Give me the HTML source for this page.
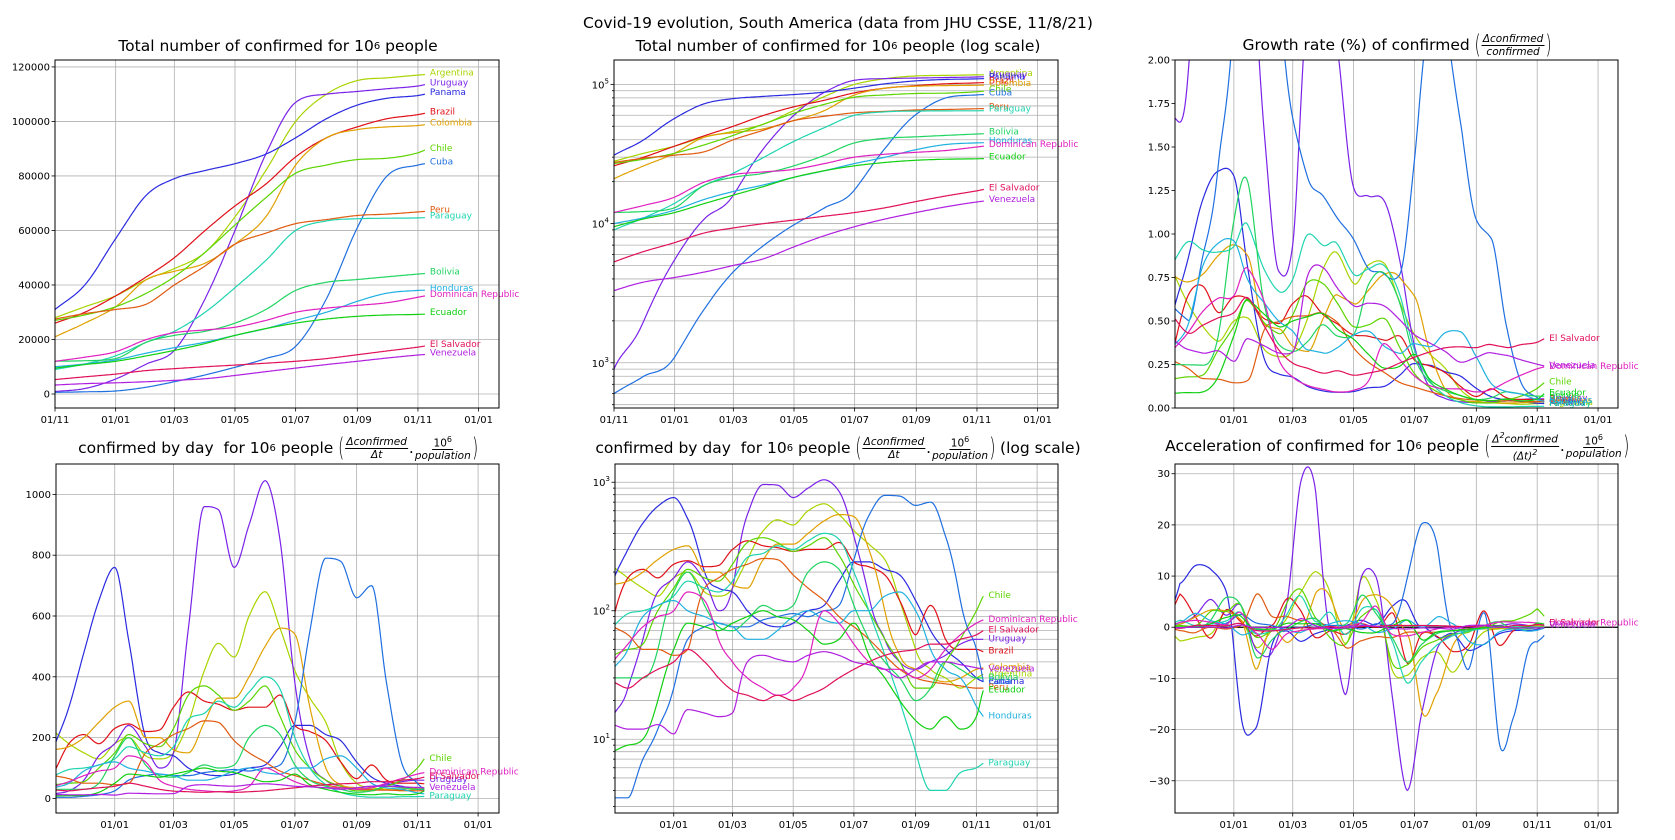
<!DOCTYPE html>
<html><head><meta charset="utf-8">
<style>
html,body{margin:0;padding:0;background:#fff;}
#wrap{position:relative;width:1675px;height:840px;overflow:hidden;font-family:"DejaVu Sans","Liberation Sans",sans-serif;}
svg{position:absolute;left:0;top:0;}
.ttl{position:absolute;transform:translate(-50%,-50%);white-space:nowrap;font-size:15.5px;color:#000;display:flex;align-items:center;}
.frac{display:inline-flex;flex-direction:column;align-items:center;font-style:italic;font-size:10.5px;line-height:12px;margin:0 1px;}
.frac .n{border-bottom:1px solid #000;padding:0 1px;}
.par{font-size:26px;font-weight:100;transform:scaleX(0.6);display:inline-block;margin:0 -2px;}
sup{font-size:10px;}
</style></head>
<body>
<div id="wrap">
<svg id="chart" width="1675" height="840"></svg>
<div class="ttl" style="left:838px;top:23px">Covid-19 evolution, South America (data from JHU CSSE, 11/8/21)</div>
<div class="ttl" style="left:278px;top:46px">Total number of confirmed for 10<sup>6</sup>&nbsp;people</div>
<div class="ttl" style="left:838px;top:46px">Total number of confirmed for 10<sup>6</sup>&nbsp;people (log scale)</div>
<div class="ttl" style="left:1397px;top:45px">Growth rate (%) of confirmed&nbsp;<span class="par">(</span><span class="frac"><span class="n">Δconfirmed</span><span>confirmed</span></span><span class="par">)</span></div>
<div class="ttl" style="left:278px;top:448px">confirmed by day&nbsp; for 10<sup>6</sup>&nbsp;people&nbsp;<span class="par">(</span><span class="frac"><span class="n">Δconfirmed</span><span>Δt</span></span>.<span class="frac"><span class="n" style="font-style:normal">10<sup style="font-size:8px">6</sup></span><span>population</span></span><span class="par">)</span></div>
<div class="ttl" style="left:838px;top:448px">confirmed by day&nbsp; for 10<sup>6</sup>&nbsp;people&nbsp;<span class="par">(</span><span class="frac"><span class="n">Δconfirmed</span><span>Δt</span></span>.<span class="frac"><span class="n" style="font-style:normal">10<sup style="font-size:8px">6</sup></span><span>population</span></span><span class="par">)</span>&nbsp;(log scale)</div>
<div class="ttl" style="left:1397px;top:446px">Acceleration of confirmed for 10<sup>6</sup>&nbsp;people&nbsp;<span class="par">(</span><span class="frac"><span class="n">Δ<sup style="font-size:8px">2</sup>confirmed</span><span>(Δt)<sup style="font-size:8px">2</sup></span></span>.<span class="frac"><span class="n" style="font-style:normal">10<sup style="font-size:8px">6</sup></span><span>population</span></span><span class="par">)</span></div>
</div>
<script>
// ---- data ----
const monthDays=[0,30,61,92,120,151,181,212,242,273,304,334,365,372];
const halfDays=[0,15,30,45,61,75,92,106,120,135,151,165,181,196,212,227,242,257,273,288,304,319,334,349,365,372];
const xTickDays=[0,61,120,181,242,304,365,426];
const xTickLabels=["01/11","01/01","01/03","01/05","01/07","01/09","01/11","01/01"];
const countryNames=["Argentina","Uruguay","Panama","Brazil","Colombia","Chile","Cuba","Peru","Paraguay","Bolivia","Honduras","Dominican Republic","Ecuador","El Salvador","Venezuela"];
const countryColors=["#a8d400","#7a22e8","#2a2ae0","#e01018","#e0a000","#5cd400","#1f6fe0","#e05a10","#1fd4b0","#1fd460","#1fb0e0","#e01fc0","#10d010","#e0105a","#b01fe0"];
// cumulative totals per million (thousands) at monthDays
const totArgentina=[28,32,36,42,46,52,65,82,100,110,115,116,117,117.2];
const totUruguay=[0.9,2,5.5,11,16,35,60,88,107,110,111,112,113,113.5];
const totPanama=[31,40,57,73,79,82,84.5,88,94,101,106,108.5,109.5,110];
const totBrazil=[26,30,36,43,50,60,69,77,87,94,98,101,102.5,103];
const totColombia=[21,26,32,42,45,48,55,65,84,94,97,98,98.5,98.8];
const totChile=[27,29,32,37,43,52,62,72,81,84,86,86.5,88.5,89.5];
const totCuba=[0.6,0.8,1.1,2.5,4.5,7,9.8,13,17.5,35,61,80,84,84.5];
const totPeru=[27.5,29.5,31,33,40,47,55,59,62.5,64,65.5,66,66.8,67];
const totParaguay=[9,11,14,19,23,30,39,49,60,63.5,64.3,64.5,64.6,64.7];
const totBolivia=[12,12.2,13,19,21.5,23,26,31,38,41,42,43,44,44.2];
const totHonduras=[10,11,12.5,15,17,19,21.5,24,27,30,34,37,38,38.1];
const totDomRep=[12,13.5,15.5,20,22.5,23.5,24.5,27,30,31.5,32.5,33.5,35.5,36];
const totEcuador=[9.5,10.8,12,14,16,18.5,21.5,24,26,27.5,28.5,29,29.2,29.3];
const totElSalvador=[5.3,6.3,7.3,8.6,9.3,10,10.6,11.3,12,13,14.4,15.8,17.2,17.6];
const totVenezuela=[3.3,3.8,4.1,4.5,5,5.6,6.8,8.2,9.5,10.8,12,13.2,14.3,14.5];
// smoothed daily confirmed per million at halfDays
const dayArgentina=[220,180,150,130,180,200,140,130,150,250,420,510,465,600,680,560,420,330,250,120,50,35,30,25,30,32];
const dayUruguay=[15,25,60,140,180,240,170,100,150,560,960,950,760,900,1045,850,380,130,60,40,35,40,45,55,60,60];
const dayPanama=[170,300,480,650,760,520,200,150,140,100,80,75,80,100,110,170,240,240,210,190,120,70,50,40,30,28];
const dayBrazil=[85,180,210,180,230,245,220,225,300,350,320,310,290,300,300,340,240,220,190,120,65,110,60,50,50,48];
const dayColombia=[160,170,200,250,300,320,200,200,160,150,250,330,330,400,500,560,540,300,100,45,35,30,28,30,35,36];
const dayChile=[45,50,55,100,150,210,180,170,230,340,370,340,290,320,370,270,160,100,60,40,25,25,40,60,100,130];
const dayCuba=[3.5,3.5,7,12,25,60,75,80,75,75,85,90,95,90,100,110,250,550,790,780,660,700,380,120,50,28];
const dayPeru=[75,65,50,50,45,50,150,180,210,230,255,250,190,150,120,90,75,60,45,35,30,28,27,26,25,25];
const dayParaguay=[75,95,100,110,130,170,150,140,170,260,280,320,300,350,400,360,200,100,45,20,8,4,4,5.5,6,6.5];
const dayBolivia=[30,30,30,50,140,200,110,75,70,85,110,100,110,200,240,210,110,60,40,30,20,25,40,35,30,30];
const dayHonduras=[35,50,90,110,120,100,90,80,75,60,60,70,90,100,85,80,100,100,130,140,100,50,35,30,18,15];
const dayDomRep=[40,55,75,90,100,140,120,60,40,30,25,22,25,40,100,80,55,40,35,35,30,35,50,65,80,85];
const dayEcuador=[8,9,10,20,50,80,75,70,80,90,100,90,85,70,55,60,80,45,30,20,14,12,15,12,15,24];
const dayElSalvador=[28,25,30,35,40,50,40,30,24,22,20,22,20,22,25,30,35,40,45,48,50,55,55,60,65,70];
const dayVenezuela=[13,12,12,13,11,17,16,15,16,40,45,42,40,45,48,45,40,38,35,30,35,40,40,38,36,35];
const totalsList=[totArgentina,totUruguay,totPanama,totBrazil,totColombia,totChile,totCuba,totPeru,totParaguay,totBolivia,totHonduras,totDomRep,totEcuador,totElSalvador,totVenezuela];
const dailyList=[dayArgentina,dayUruguay,dayPanama,dayBrazil,dayColombia,dayChile,dayCuba,dayPeru,dayParaguay,dayBolivia,dayHonduras,dayDomRep,dayEcuador,dayElSalvador,dayVenezuela];
const dailyLabelNames=["Chile","Dominican Republic","El Salvador","Uruguay","Venezuela","Paraguay"];

// ---- helpers ----
const NS="http://www.w3.org/2000/svg";
const svg=document.getElementById('chart');
function mk(tag,attrs,parent){const e=document.createElementNS(NS,tag);for(const k in attrs)e.setAttribute(k,attrs[k]);(parent||svg).appendChild(e);return e;}
function mono(xs,ys){
  const n=xs.length,d=[],m=[];
  for(let i=0;i<n-1;i++)d.push((ys[i+1]-ys[i])/(xs[i+1]-xs[i]));
  m[0]=d[0];m[n-1]=d[n-2];
  for(let i=1;i<n-1;i++){ if(d[i-1]*d[i]<=0)m[i]=0; else m[i]=(d[i-1]+d[i])/2; }
  for(let i=0;i<n-1;i++){ if(d[i]===0){m[i]=0;m[i+1]=0;continue;} const a=m[i]/d[i],b=m[i+1]/d[i]; const s=a*a+b*b; if(s>9){const t=3/Math.sqrt(s);m[i]=t*a*d[i];m[i+1]=t*b*d[i];} }
  return function(x){
    if(x<xs[0])x=xs[0]; if(x>xs[n-1])x=xs[n-1];
    let i=0; while(i<n-2&&x>xs[i+1])i++;
    const h=xs[i+1]-xs[i],t=(x-xs[i])/h,t2=t*t,t3=t2*t;
    return (2*t3-3*t2+1)*ys[i]+(t3-2*t2+t)*h*m[i]+(-2*t3+3*t2)*ys[i+1]+(t3-t2)*h*m[i+1];
  };
}
const totalF=totalsList.map(a=>mono(monthDays,a.map(v=>v*1000)));
const dailyF=dailyList.map(a=>mono(halfDays,a));

function makePanel(p){
  const g=mk('g',{});
  
  
  const xs=d=>p.x0+(d-p.d0)/(p.d1-p.d0)*(p.x1-p.x0);
  const ys=v=>{ if(p.log){const lv=Math.log10(Math.max(v,1e-6));return p.y1-(lv-p.v0)/(p.v1-p.v0)*(p.y1-p.y0);} return p.y1-(v-p.v0)/(p.v1-p.v0)*(p.y1-p.y0); };
  const cid='clip-'+p.name;
  const cp=mk('clipPath',{id:cid},g); mk('rect',{x:p.x0,y:p.y0,width:p.x1-p.x0,height:p.y1-p.y0},cp);
  const grid=mk('g',{stroke:'#b0b0b0','stroke-width':0.8},g);
   
  xTickDays.forEach((d,i)=>{
    if(d<p.d0-0.01||d>p.d1)return;
    const x=xs(d);
    mk('line',{x1:x,x2:x,y1:p.y0,y2:p.y1},grid);
    mk('line',{x1:x,x2:x,y1:p.y1,y2:p.y1+3.5,stroke:'#000','stroke-width':0.8},g);
    const t=mk('text',{x:x,y:p.y1+15,'text-anchor':'middle','font-size':10,'font-family':'DejaVu Sans, Liberation Sans, sans-serif'},g);
    t.textContent=xTickLabels[i];
     
  });
  if(p.log){
    for(let e=Math.floor(p.v0);e<=Math.ceil(p.v1);e++){
      for(let k=1;k<10;k++){
        const lv=e+Math.log10(k); if(lv<p.v0||lv>p.v1)continue;
        const y=p.y1-(lv-p.v0)/(p.v1-p.v0)*(p.y1-p.y0);
        mk('line',{x1:p.x0,x2:p.x1,y1:y,y2:y},grid);
        mk('line',{x1:p.x0-(k===1?3.5:2),x2:p.x0,y1:y,y2:y,stroke:'#000','stroke-width':0.8},g);
        if(k===1){const t=mk('text',{x:p.x0-5,y:y+4,'text-anchor':'end','font-size':10,'font-family':'DejaVu Sans, sans-serif'},g);
          t.innerHTML='10<tspan dy="-5" font-size="7">'+e+'</tspan>';
           }
      }
    }
  } else {
    p.yticks.forEach(v=>{
      const y=ys(v);
      if(!p.noHGrid)mk('line',{x1:p.x0,x2:p.x1,y1:y,y2:y},grid);
      mk('line',{x1:p.x0-3.5,x2:p.x0,y1:y,y2:y,stroke:'#000','stroke-width':0.8},g);
      const t=mk('text',{x:p.x0-5,y:y+3.5,'text-anchor':'end','font-size':10,'font-family':'DejaVu Sans, sans-serif'},g);
      t.textContent=p.fmt(v);
       
    });
  }
  if(p.zeroLine){const y=ys(0);mk('line',{x1:p.x0,x2:p.x1,y1:y,y2:y,stroke:'#000','stroke-width':1.3},g);}
  const lines=mk('g',{'clip-path':'url(#'+cid+')',fill:'none','stroke-width':1.2},g);
  countryNames.forEach((name,ci)=>{
    let pts=[];
    for(let d=Math.ceil(p.d0);d<=372;d++){ pts.push(xs(d).toFixed(1)+','+ys(p.val(ci,d)).toFixed(1)); }
    const pl=mk('polyline',{points:pts.join(' '),stroke:countryColors[ci]},lines);
    
    
    if(!p.labels||p.labels.includes(name)){
      const ly=ys(p.val(ci,372));
      const t=mk('text',{x:xs(372)+5,y:Math.max(p.y0+8,Math.min(p.y1-2,ly+(p.lblDy||0))),'font-size':9,fill:countryColors[ci],'font-family':'DejaVu Sans, sans-serif'},g);
      t.textContent=name;
      
      
    }
  });
  mk('rect',{x:p.x0,y:p.y0,width:p.x1-p.x0,height:p.y1-p.y0,fill:'none',stroke:'#000','stroke-width':1},g);
}
const tot=(ci,d)=>totalF[ci](d);
const dly=(ci,d)=>Math.max(dailyF[ci](d),0.5);
makePanel({name:'panel-total',x0:55,x1:499,y0:60,y1:408,d0:0,d1:446.5,v0:-5138,v1:122540,yticks:[0,20000,40000,60000,80000,100000,120000],fmt:v=>String(v),val:tot,lblDy:1});
makePanel({name:'panel-total-log',x0:614,x1:1058,y0:60,y1:408,d0:0,d1:446.5,log:true,v0:2.675,v1:5.175,val:tot,lblDy:1});
makePanel({name:'panel-growth',x0:1175,x1:1618,y0:60,y1:408,d0:2,d1:446,v0:0,v1:2,yticks:[0,0.25,0.5,0.75,1,1.25,1.5,1.75,2],fmt:v=>v.toFixed(2),noHGrid:true,val:(ci,d)=>dly(ci,d)/tot(ci,d)*100,lblDy:2});
makePanel({name:'panel-daily',x0:56,x1:499,y0:464,y1:813,d0:2,d1:447,v0:-48,v1:1100,yticks:[0,200,400,600,800,1000],fmt:v=>String(v),val:dly,labels:dailyLabelNames,lblDy:2});
makePanel({name:'panel-daily-log',x0:615,x1:1058,y0:464,y1:813,d0:2,d1:447,log:true,v0:0.426,v1:3.142,val:dly,lblDy:2});
makePanel({name:'panel-acceleration',x0:1175,x1:1618,y0:464,y1:813,d0:2,d1:446,v0:-36.3,v1:31.9,yticks:[-30,-20,-10,0,10,20,30],fmt:v=>(v<0?'\u2212'+(-v):String(v)),zeroLine:true,val:(ci,d)=>(dailyF[ci](d+7)-dailyF[ci](d-7))/14,labels:["El Salvador","Venezuela","Dominican Republic"],lblDy:0});
</script>
</body></html>
